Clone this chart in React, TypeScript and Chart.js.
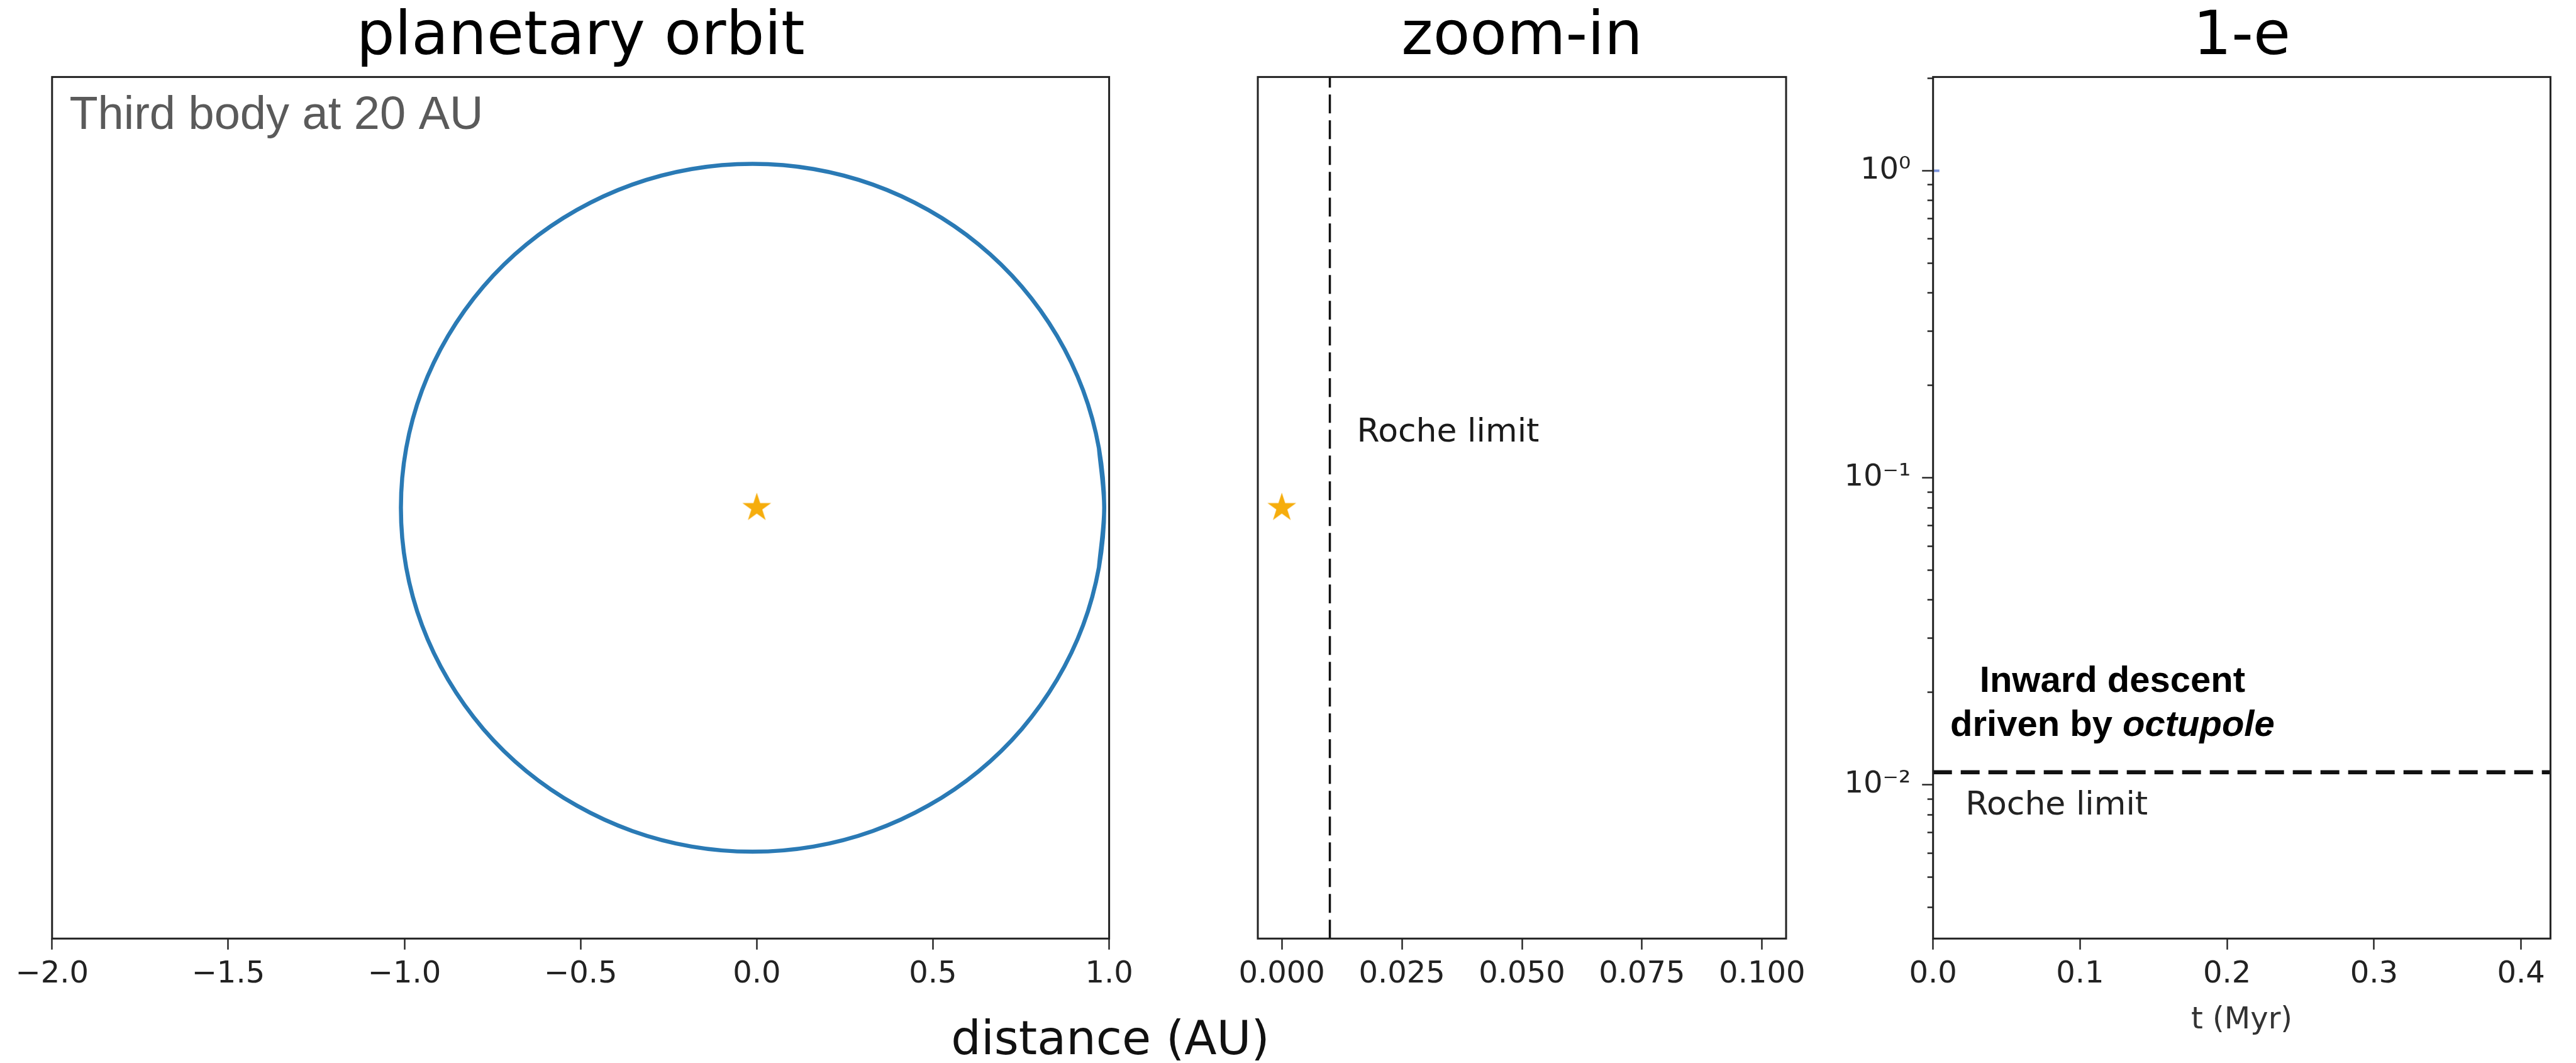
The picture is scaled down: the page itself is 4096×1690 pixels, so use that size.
import React, { useEffect, useRef } from 'react';
import { Chart, registerables } from 'chart.js';

Chart.register(...registerables);
Chart.defaults.font.family = 'DejaVu Sans';

// ---------------- data ----------------
const panelTitles = ['planetary orbit', 'zoom-in', '1-e'];

// planetary orbit (AU), read around the drawn ellipse every 10 degrees
// (the trace overlaps by one step at both ends so the closed curve stays smooth)
const orbitX = [0.971, 0.986, 0.971, 0.926, 0.852, 0.752, 0.63, 0.487, 0.329, 0.161, -0.012, -0.185, -0.353, -0.511, -0.654, -0.776, -0.876, -0.95, -0.995, -1.01, -0.995, -0.95, -0.876, -0.776, -0.654, -0.511, -0.353, -0.185, -0.012, 0.161, 0.329, 0.487, 0.63, 0.752, 0.852, 0.926, 0.971, 0.986, 0.971];
const orbitY = [-0.173, 0, 0.173, 0.341, 0.499, 0.642, 0.764, 0.864, 0.938, 0.983, 0.998, 0.983, 0.938, 0.864, 0.764, 0.642, 0.499, 0.341, 0.173, 0, -0.173, -0.341, -0.499, -0.642, -0.764, -0.864, -0.938, -0.983, -0.998, -0.983, -0.938, -0.864, -0.764, -0.642, -0.499, -0.341, -0.173, 0, 0.173];
const starX = [0];
const starY = [0];

const orbitXRange = [-2, 1];
const orbitYRange = [-1.25, 1.25];
const zoomXRange = [-0.005, 0.105];
const timeRange = [0, 0.42];
const oneMinusERange = [0.00316, 2.02];

const rocheDistanceAU = [0.01, 0.01];
const rocheLineY = [-1.25, 1.25];
const rocheTime = [0, 0.42];
const rocheOneMinusE = [0.011, 0.011];

const timeMyr = [0, 0.0043];
const oneMinusE = [1.0, 1.0];

const orbitXTicks = [-2, -1.5, -1, -0.5, 0, 0.5, 1];
const zoomXTicks = [0, 0.025, 0.05, 0.075, 0.1];
const timeTicks = [0, 0.1, 0.2, 0.3, 0.4];
const logMajorTicks = [0.01, 0.1, 1];
const logMajorLabels = ['10⁻²', '10⁻¹', '10⁰'];
const logMinorTicks = [0.004, 0.005, 0.006, 0.007, 0.008, 0.009, 0.02, 0.03, 0.04, 0.05, 0.06, 0.07, 0.08, 0.09, 0.2, 0.3, 0.4, 0.5, 0.6, 0.7, 0.8, 0.9, 2];

// ---------------- styles ----------------
const INK = '#222222';
const TICK_FONT = { family: 'DejaVu Sans', size: 48 };
const TITLE_FONT = { family: 'DejaVu Sans', size: 96, weight: 'normal' as const, lineHeight: 1 };
const TITLE_PAD = { top: 13, bottom: 13.4 };
const XAXIS_H = 197.8;
const TICK_LEN = 17.5;

const minus = (s: string) => s.replace('-', '\u2212');

function makeStar(r: number, color: string) {
  const c = document.createElement('canvas');
  const s = Math.ceil(2 * r + 2);
  c.width = s;
  c.height = s;
  const ctx = c.getContext('2d')!;
  ctx.fillStyle = color;
  ctx.beginPath();
  for (let k = 0; k < 10; k++) {
    const rr = k % 2 === 0 ? r : r * 0.382;
    const a = -Math.PI / 2 + (k * Math.PI) / 5;
    const px = s / 2 + rr * Math.cos(a);
    const py = s / 2 + rr * Math.sin(a);
    if (k === 0) ctx.moveTo(px, py);
    else ctx.lineTo(px, py);
  }
  ctx.closePath();
  ctx.fill();
  return c;
}

const framePlugin = {
  id: 'frame',
  afterDraw(chart: any) {
    const { ctx, chartArea: a } = chart;
    ctx.save();
    ctx.strokeStyle = INK;
    ctx.lineWidth = 3;
    ctx.strokeRect(a.left, a.top, a.right - a.left, a.bottom - a.top);
    ctx.restore();
  },
};

type Part = { text: string; font: string };
type Note = { parts: Part[]; dx: number; dy: number; align: 'left' | 'center'; color: string };

const notesPlugin = (notes: Note[]) => ({
  id: 'notes',
  afterDraw(chart: any) {
    const { ctx, chartArea: a } = chart;
    ctx.save();
    ctx.textBaseline = 'alphabetic';
    ctx.textAlign = 'left';
    for (const n of notes) {
      const widths = n.parts.map((p) => {
        ctx.font = p.font;
        return ctx.measureText(p.text).width;
      });
      const total = widths.reduce((s, w) => s + w, 0);
      let x = a.left + n.dx - (n.align === 'center' ? total / 2 : 0);
      const y = a.top + n.dy;
      ctx.fillStyle = n.color;
      n.parts.forEach((p, i) => {
        ctx.font = p.font;
        ctx.fillText(p.text, x, y);
        x += widths[i];
      });
    }
    ctx.restore();
  },
});

const tickGrid = (len: number) => ({
  display: true,
  drawOnChartArea: false,
  drawTicks: true,
  tickLength: len,
  tickColor: INK,
  tickWidth: 2.4,
});

const fixedTicks = (arr: number[]) => (scale: any) => {
  scale.ticks = arr.map((v) => ({ value: v }));
};

function baseOptions(title: string, padding: any, scales: any) {
  return {
    responsive: false,
    animation: false as const,
    events: [] as any[],
    layout: { padding },
    plugins: {
      legend: { display: false },
      tooltip: { enabled: false },
      title: {
        display: true,
        text: title,
        fullSize: false,
        color: '#000',
        font: TITLE_FONT,
        padding: TITLE_PAD,
      },
    },
    scales,
  };
}

function xAxis(range: number[], ticks: number[], fmt: (v: number) => string, extra: any = {}) {
  return {
    type: 'linear',
    position: 'bottom',
    min: range[0],
    max: range[1],
    afterBuildTicks: fixedTicks(ticks),
    afterFit: (s: any) => {
      s.height = XAXIS_H;
    },
    ticks: {
      color: INK,
      font: TICK_FONT,
      padding: 11,
      maxRotation: 0,
      autoSkip: false,
      callback: (v: any) => fmt(Number(v)),
    },
    grid: tickGrid(TICK_LEN),
    border: { display: false },
    ...extra,
  };
}

function ChartCanvas({ left, width, build }: { left: number; width: number; build: (c: HTMLCanvasElement) => Chart }) {
  const ref = useRef<HTMLCanvasElement>(null);
  useEffect(() => {
    const chart = build(ref.current!);
    return () => chart.destroy();
  }, []);
  return (
    <canvas
      ref={ref}
      width={width}
      height={1690}
      style={{ position: 'absolute', left, top: 0, width, height: 1690 }}
    />
  );
}

export default function App() {
  const buildOrbit = (c: HTMLCanvasElement) => {
    const star = makeStar(24, '#f6ad0c');
    return new Chart(c, {
      type: 'scatter',
      data: {
        datasets: [
          {
            data: orbitX.map((x, i) => ({ x, y: orbitY[i] })),
            showLine: true,
            borderColor: '#2a7ab5',
            borderWidth: 6.5,
            pointRadius: 0,
            tension: 0.33,
          },
          {
            data: starX.map((x, i) => ({ x, y: starY[i] })),
            pointStyle: star as any,
            pointRadius: 24,
          },
        ],
      },
      options: baseOptions(panelTitles[0], { left: 82.8, right: 336.4, top: 0, bottom: 0 }, {
        x: xAxis(orbitXRange, orbitXTicks, (v) => minus(v.toFixed(1))),
        y: { type: 'linear', display: false, min: orbitYRange[0], max: orbitYRange[1] },
      }) as any,
      plugins: [
        framePlugin,
        notesPlugin([
          { parts: [{ text: 'Third body at 20 AU', font: '74px "Liberation Sans"' }], dx: 27.6, dy: 82.8, align: 'left', color: '#5a5a5a' },
          { parts: [{ text: 'distance (AU)', font: '75px "DejaVu Sans"' }], dx: 1682.7, dy: 1553.6, align: 'center', color: '#111' },
        ]),
      ],
    });
  };

  const buildZoom = (c: HTMLCanvasElement) => {
    const star = makeStar(24, '#f6ad0c');
    return new Chart(c, {
      type: 'scatter',
      data: {
        datasets: [
          {
            data: rocheDistanceAU.map((x, i) => ({ x, y: rocheLineY[i] })),
            showLine: true,
            borderColor: '#111',
            borderWidth: 3.5,
            borderDash: [30, 11],
            pointRadius: 0,
          },
          {
            data: starX.map((x, i) => ({ x, y: starY[i] })),
            pointStyle: star as any,
            pointRadius: 24,
          },
        ],
      },
      options: baseOptions(panelTitles[1], { left: 100, right: 60, top: 0, bottom: 0 }, {
        x: xAxis(zoomXRange, zoomXTicks, (v) => v.toFixed(3)),
        y: { type: 'linear', display: false, min: orbitYRange[0], max: orbitYRange[1] },
      }) as any,
      plugins: [
        framePlugin,
        notesPlugin([
          { parts: [{ text: 'Roche limit', font: '52px "DejaVu Sans"' }], dx: 157.4, dy: 579.6, align: 'left', color: '#1a1a1a' },
        ]),
      ],
    });
  };

  const buildEcc = (c: HTMLCanvasElement) => {
    return new Chart(c, {
      type: 'scatter',
      data: {
        datasets: [
          {
            data: rocheTime.map((x, i) => ({ x, y: rocheOneMinusE[i] })),
            showLine: true,
            borderColor: '#111',
            borderWidth: 6.4,
            borderDash: [30, 14],
            pointRadius: 0,
          },
          {
            data: timeMyr.map((x, i) => ({ x, y: oneMinusE[i] })),
            showLine: true,
            borderColor: '#7b93dd',
            borderWidth: 4,
            pointRadius: 0,
          },
        ],
      },
      options: baseOptions(panelTitles[2], { left: 0, right: 40.6, top: 0, bottom: 0 }, {
        x: xAxis(timeRange, timeTicks, (v) => v.toFixed(1), {
          title: {
            display: true,
            text: 't (Myr)',
            color: '#333',
            font: { family: 'DejaVu Sans', size: 48 },
            padding: { top: 0, bottom: 38.4 },
          },
        }),
        y: {
          type: 'logarithmic',
          position: 'left',
          weight: 1,
          min: oneMinusERange[0],
          max: oneMinusERange[1],
          afterBuildTicks: fixedTicks(logMajorTicks),
          afterFit: (s: any) => {
            s.width = 173.7;
          },
          ticks: {
            color: INK,
            font: TICK_FONT,
            padding: 18,
            autoSkip: false,
            callback: (v: any) => {
              const i = logMajorTicks.findIndex((t) => Math.abs(t - Number(v)) < t * 1e-6);
              return i >= 0 ? logMajorLabels[i] : '';
            },
          },
          grid: tickGrid(TICK_LEN),
          border: { display: false },
        },
        yMinor: {
          type: 'logarithmic',
          position: 'left',
          weight: 0,
          min: oneMinusERange[0],
          max: oneMinusERange[1],
          afterBuildTicks: fixedTicks(logMinorTicks),
          afterFit: (s: any) => {
            s.width = 0;
          },
          ticks: { display: false },
          grid: tickGrid(9),
          border: { display: false },
        },
      }) as any,
      plugins: [
        framePlugin,
        notesPlugin([
          { parts: [{ text: 'Inward descent', font: 'bold 58px "Liberation Sans"' }], dx: 285.2, dy: 977.9, align: 'center', color: '#000' },
          {
            parts: [
              { text: 'driven by ', font: 'bold 58px "Liberation Sans"' },
              { text: 'octupole', font: 'italic bold 58px "Liberation Sans"' },
            ],
            dx: 285.2,
            dy: 1047.8,
            align: 'center',
            color: '#000',
          },
          { parts: [{ text: 'Roche limit', font: '52px "DejaVu Sans"' }], dx: 51.5, dy: 1173, align: 'left', color: '#222' },
        ]),
      ],
    });
  };

  return (
    <div style={{ position: 'absolute', left: 0, top: 0, width: 4096, height: 1690, overflow: 'hidden', background: '#fff' }}>
      <ChartCanvas left={0} width={2100} build={buildOrbit} />
      <ChartCanvas left={1900} width={1000} build={buildZoom} />
      <ChartCanvas left={2900} width={1196} build={buildEcc} />
    </div>
  );
}
